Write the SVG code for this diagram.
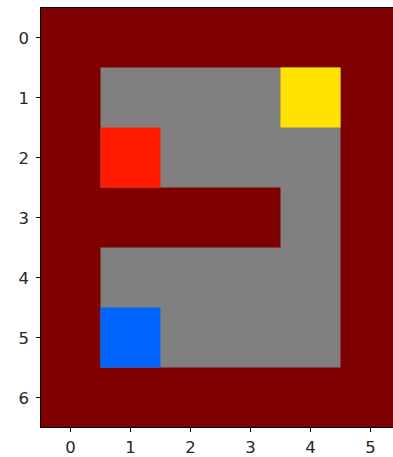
<svg xmlns="http://www.w3.org/2000/svg" width="393" height="457" viewBox="0 0 393 457">
<style>
.wall{fill:#7f0000}
.floor{fill:#808080}
.lbl{font-family:"DejaVu Sans",sans-serif;font-size:16.5px;fill:#262626}
.tick{stroke:#000;stroke-width:1}
</style>
<rect width="393" height="457" fill="#ffffff"/>
<g id="grid">
<rect class="wall" x="40.5" y="7.5" width="360" height="420"/>
<path class="floor" d="M100.5 67.5H340.5V367.5H100.5V247.5H280.5V187.5H100.5Z"/>
</g>
<g id="goal"><rect x="280.5" y="67.5" width="60" height="60" fill="#ffe200"/></g>
<g id="hazard"><rect x="100.5" y="127.5" width="60" height="60" fill="#ff1a00"/></g>
<g id="agent"><rect x="100.5" y="307.5" width="60" height="60" fill="#0064ff"/></g>
<g id="frame"><rect x="40.5" y="7.5" width="360" height="420" fill="none" stroke="#000" stroke-width="1"/></g>
<g id="yaxis">
<path class="tick" d="M36 37.5H40.5M36 97.5H40.5M36 157.5H40.5M36 217.5H40.5M36 277.5H40.5M36 337.5H40.5M36 397.5H40.5"/>
<g class="lbl" text-anchor="end">
<text x="29" y="43.5">0</text>
<text x="29" y="103.5">1</text>
<text x="29" y="163.5">2</text>
<text x="29" y="223.5">3</text>
<text x="29" y="283.5">4</text>
<text x="29" y="343.5">5</text>
<text x="29" y="403.5">6</text>
</g>
</g>
<g id="xaxis">
<path class="tick" d="M70.5 427.5V432M130.5 427.5V432M190.5 427.5V432M250.5 427.5V432M310.5 427.5V432M370.5 427.5V432"/>
<g class="lbl" text-anchor="middle">
<text x="70.5" y="453">0</text>
<text x="130.5" y="453">1</text>
<text x="190.5" y="453">2</text>
<text x="250.5" y="453">3</text>
<text x="310.5" y="453">4</text>
<text x="370.5" y="453">5</text>
</g>
</g>
</svg>
